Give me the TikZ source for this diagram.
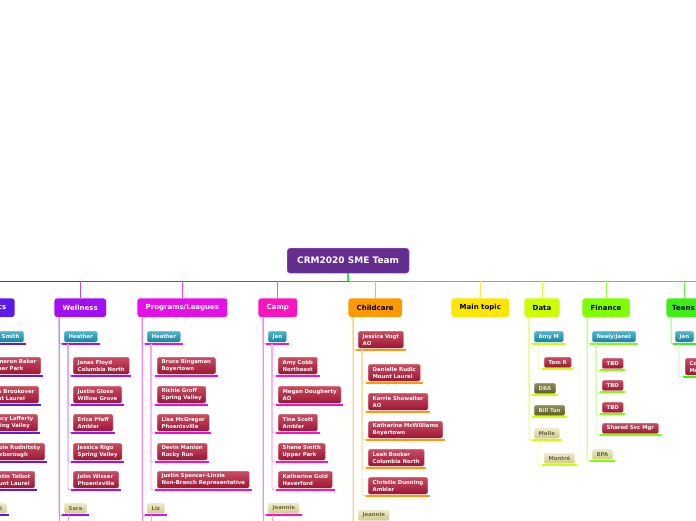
\documentclass[tikz,border=0pt]{standalone}
\usepackage{fontspec}
\setmainfont{DejaVu Sans}
\definecolor{cA}{HTML}{5B1AE8}
\definecolor{cW}{HTML}{A010F0}
\definecolor{cP}{HTML}{E610E6}
\definecolor{cC}{HTML}{F814BE}
\definecolor{cK}{HTML}{FF9900}
\definecolor{cM}{HTML}{FFE600}
\definecolor{cD}{HTML}{CCFF00}
\definecolor{cF}{HTML}{80FF00}
\definecolor{cT}{HTML}{3CEE14}
\definecolor{cRoot}{HTML}{662D91}
\definecolor{cBar}{HTML}{33E833}
\definecolor{rTop}{HTML}{C84E60}
\definecolor{rBot}{HTML}{9C1636}
\definecolor{rBd}{HTML}{E8A8B4}
\definecolor{tTop}{HTML}{4DB8D2}
\definecolor{tBot}{HTML}{1E7F9A}
\definecolor{tBd}{HTML}{A8DCEA}
\definecolor{bTop}{HTML}{EEEAC4}
\definecolor{bBot}{HTML}{CFC98F}
\definecolor{bBd}{HTML}{F2F0DC}
\definecolor{bTxt}{HTML}{6E6B45}
\definecolor{oTop}{HTML}{8E8C58}
\definecolor{oBot}{HTML}{5F5D2F}
\definecolor{oBd}{HTML}{C8C8A8}
\definecolor{oTxt}{HTML}{E8E8D0}
\tikzset{
  bx/.style={rounded corners=1.5pt, draw=#1, line width=0.3pt, font=\bfseries\fontsize{5.35}{6.8}\selectfont, inner xsep=4.5pt, inner ysep=0pt, align=left, anchor=north west},
  itemred/.style={bx=rBd, top color=rTop, bottom color=rBot, text=white, minimum height=17pt},
  itemred1/.style={itemred, minimum height=10.5pt},
  lead/.style={bx=tBd, top color=tTop, bottom color=tBot, text=white, minimum height=11pt},
  beige/.style={bx=bBd, top color=bTop, bottom color=bBot, text=bTxt, minimum height=10.5pt},
  olive/.style={bx=oBd, top color=oTop, bottom color=oBot, text=oTxt, minimum height=10.5pt},
  topic/.style={rounded corners=2.5pt, font=\bfseries\fontsize{7}{8.5}\selectfont, inner xsep=8.5pt, inner ysep=0pt, minimum height=19pt, anchor=north west, draw=white, line width=0.4pt},
  brstem/.style={draw=#1!50!white, line width=1pt, rounded corners=2pt},
  brsub/.style={draw=#1!40!white, line width=0.8pt, rounded corners=2pt},
  tconn/.style={draw=#1!75!white, line width=1pt, rounded corners=2pt},
  ulbar/.style={draw=#1, line width=2pt},
}
\newcommand\mmnode[5]{%
  \node[#1] (#2) at #3 {#4};
  \coordinate (#2u) at ([xshift=-2pt,yshift=-1.6pt]#2.south west);
  \coordinate (#2v) at ([xshift=2pt,yshift=-1.6pt]#2.south east);
  \coordinate (#2s) at ([xshift=6pt]#2u);
  \draw[ulbar=#5] (#2u) -- (#2v);
}
\begin{document}
\begin{tikzpicture}[x=1pt,y=-1pt]
\useasboundingbox (0,0) rectangle (696,520);
\coordinate (bar) at (349,281);
\coordinate (barL) at (0,281);
\coordinate (barR) at (696,281);
\coordinate (bot) at (0,524);

% root
\node[topic, font=\bfseries\fontsize{9}{11}\selectfont, fill=cRoot, draw=cRoot!70!white, text=white, minimum height=25pt, inner xsep=10pt, rounded corners=3pt] (root) at (287,248) {CRM2020 SME Team};

% main topics
\node[topic, anchor=north east, fill=cA, text=white] (A) at (15,298) {\hspace*{20pt}cs};
\node[topic, fill=cW, text=white] (W) at (54,298) {Wellness};
\node[topic, fill=cP, text=white] (P) at (137,298) {Programs/Leagues};
\node[topic, fill=cC, text=white] (C) at (258,298) {Camp};
\node[topic, fill=cK, text=black] (K) at (348,298) {Childcare};
\node[topic, fill=cM, text=black] (M) at (451,298) {Main topic};
\node[topic, fill=cD, text=black] (D) at (524,298) {Data};
\node[topic, fill=cF, text=black] (F) at (582,298) {Finance};
\node[topic, fill=cT, text=black, text width=42pt, align=left, inner xsep=6pt] (T) at (666,298) {Teens};

% bar
\draw[cA!80!cW, line width=1pt] (barL) -- (W.north |- bar);
\draw[cW!60!cP, line width=1pt] (W.north |- bar) -- (P.north |- bar);
\draw[cP, line width=1pt] (P.north |- bar) -- (C.north |- bar);
\draw[cC, line width=1pt] (C.north |- bar) -- (bar);
\draw[cBar, line width=1pt] (bar) -- (barR);
\draw[cBar, line width=1.6pt] (root.south) -- (root.south |- bar);
\foreach \t/\c in {W/cW,P/cP,C/cC,K/cK,M/cM,D/cD,F/cF}{
  \draw[tconn=\c] (\t.north |- bar) -- (\t.north);
}
\draw[tconn=cT] ([xshift=18pt]T.north west |- bar) -- ([xshift=18pt]T.north west);

% stems of the main topics
\foreach \t in {A,W,P,C,K,D,F,T}{ \coordinate (\t s) at ([xshift=5pt]\t.south west); }

% left cut branch
\mmnode{lead, anchor=north east}{A0}{(24,331)}{\hspace*{12pt}Smith}{cA}
\mmnode{itemred, anchor=north east}{A1}{(41,357)}{\hspace*{10pt}meron Baker\\\hspace*{10pt}per Park}{cA}
\mmnode{itemred, anchor=north east}{A2}{(39,386)}{\hspace*{10pt}ris Brookover\\\hspace*{10pt}unt Laurel}{cA}
\mmnode{itemred, anchor=north east}{A3}{(38,414)}{\hspace*{10pt}acy Lafferty\\\hspace*{10pt}ring Valley}{cA}
\mmnode{itemred, anchor=north east}{A4}{(45,443)}{\hspace*{10pt}ole Rudnitsky\\\hspace*{10pt}xborough}{cA}
\mmnode{itemred, anchor=north east}{A5}{(35,471)}{\hspace*{10pt}stin Talbot\\\hspace*{10pt}unt Laurel}{cA}
\mmnode{beige, anchor=north east}{A6}{(7,503)}{\hspace*{10pt}é}{cA}

% Wellness
\mmnode{lead}{W0}{(64,331)}{Heather}{cW}
\mmnode{itemred}{W1}{(73,357)}{Jonas Floyd\\Columbia North}{cW}
\mmnode{itemred}{W2}{(73,386)}{Justin Glose\\Willow Grove}{cW}
\mmnode{itemred}{W3}{(73,414)}{Erica Pfaff\\Ambler}{cW}
\mmnode{itemred}{W4}{(73,443)}{Jessica Rigo\\Spring Valley}{cW}
\mmnode{itemred}{W5}{(73,471)}{John Wisser\\Phoenixville}{cW}
\mmnode{beige}{W6}{(64,503)}{Sara}{cW}

% Programs/Leagues
\mmnode{lead}{P0}{(147,331)}{Heather}{cP}
\mmnode{itemred}{P1}{(157,357)}{Bruce Bingaman\\Boyertown}{cP}
\mmnode{itemred}{P2}{(157,386)}{Richie Groff\\Spring Valley}{cP}
\mmnode{itemred}{P3}{(157,414)}{Lisa McGregor\\Phoenixville}{cP}
\mmnode{itemred}{P4}{(157,443)}{Devin Manion\\Rocky Run}{cP}
\mmnode{itemred}{P5}{(157,471)}{Justin Spencer-Linzie\\Non-Branch Representative}{cP}
\mmnode{beige}{P6}{(147,503)}{Liz}{cP}

% Camp
\mmnode{lead}{C0}{(268,331)}{Jen}{cC}
\mmnode{itemred}{C1}{(278,357)}{Amy Cobb\\Northeast}{cC}
\mmnode{itemred}{C2}{(278,386)}{Megan Dougherty\\AO}{cC}
\mmnode{itemred}{C3}{(278,414)}{Tina Scott\\Ambler}{cC}
\mmnode{itemred}{C4}{(278,443)}{Shane Smith\\Upper Park}{cC}
\mmnode{itemred}{C5}{(278,471)}{Katherine Gold\\Haverford}{cC}
\mmnode{beige}{C6}{(268,503)}{Jeannie}{cC}

% Childcare
\mmnode{itemred}{K0}{(358,331)}{Jessica Vogt\\AO}{cK}
\mmnode{itemred}{K1}{(368,364)}{Danielle Rudic\\Mount Laurel}{cK}
\mmnode{itemred}{K2}{(368,393)}{Karrie Showalter\\AO}{cK}
\mmnode{itemred}{K3}{(368,421)}{Katherine McWilliams\\Boyertown}{cK}
\mmnode{itemred}{K4}{(368,449)}{Leah Booker\\Columbia North}{cK}
\mmnode{itemred}{K5}{(368,477)}{Christie Dunning\\Ambler}{cK}
\mmnode{beige}{K6}{(358,510)}{Jeannie}{cK}

% Data
\mmnode{lead}{D0}{(534,331)}{Amy M}{cD}
\mmnode{itemred1}{D1}{(544,357)}{Tom R}{cD}
\mmnode{olive}{D2}{(534,383)}{DBA}{cD}
\mmnode{olive}{D3}{(534,405)}{Bill Tan}{cD}
\mmnode{beige}{D4}{(534,428)}{Malle}{cD}
\mmnode{beige}{D5}{(544,453)}{Montré}{cD}

% Finance
\mmnode{lead}{F0}{(592,331)}{Neely/Janet}{cF}
\mmnode{itemred1}{F1}{(602,358)}{TBD}{cF}
\mmnode{itemred1}{F2}{(602,380)}{TBD}{cF}
\mmnode{itemred1}{F3}{(602,402)}{TBD}{cF}
\mmnode{itemred1}{F4}{(602,423)}{Shared Svc Mgr}{cF}
\mmnode{beige}{F5}{(592,449)}{BPA}{cF}

% Teens
\mmnode{lead}{T0}{(675,331)}{Jen}{cT}
\mmnode{itemred, text width=30pt}{T1}{(685,358)}{Co\\Mo}{cT}

% connectors: main stems
\foreach \t/\c in {W/cW,P/cP,C/cC,K/cK}{
  \draw[brstem=\c] (\t s) -- (\t s |- bot);
  \draw[brstem=\c] (\t s) |- (\t 0u);
  \draw[brstem=\c] (\t s) |- (\t 6u);
  \foreach \i in {1,...,5}{ \draw[brsub=\c] (\t 0s) |- (\t \i u); }
}
\foreach \t/\c in {W/cW,P/cP,C/cC}{ \draw[brsub=\c] (\t 6s) -- (\t 6s |- bot); }
\draw[brstem=cD] (Ds) |- (D0u);
\draw[brstem=cD] (Ds) |- (D2u);
\draw[brstem=cD] (Ds) |- (D3u);
\draw[brstem=cD] (Ds) |- (D4u);
\draw[brsub=cD] (D0s) |- (D1u);
\draw[brsub=cD] (D4s) |- (D5u);
\draw[brstem=cF] (Fs) |- (F0u);
\draw[brstem=cF] (Fs) |- (F5u);
\foreach \i in {1,...,4}{ \draw[brsub=cF] (F0s) |- (F\i u); }
\draw[brstem=cT] (Ts) |- (T0u);
\draw[brsub=cT] (T0s) |- (T1u);
\end{tikzpicture}
\end{document}
